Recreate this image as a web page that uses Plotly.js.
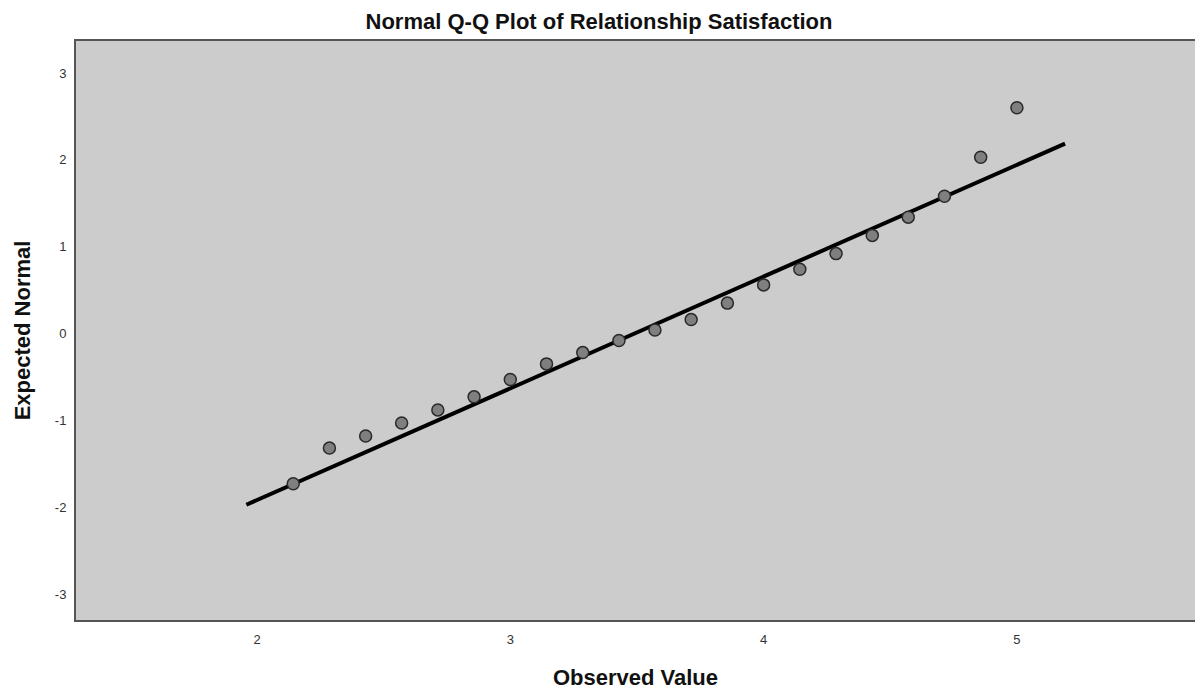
<!DOCTYPE html>
<html>
<head>
<meta charset="utf-8">
<script src="https://cdn.plot.ly/plotly-3.0.1.min.js"></script>
<style>html,body{margin:0;padding:0;background:#fff}#chart{width:1198px;height:695px}</style>
</head>
<body>
<div id="chart"></div>
<script>
const observed = [2.143, 2.286, 2.429, 2.571, 2.714, 2.857, 3.000, 3.143, 3.286, 3.429, 3.571,
                  3.714, 3.857, 4.000, 4.143, 4.286, 4.429, 4.571, 4.714, 4.857, 5.000];
const expected = [-1.73, -1.32, -1.18, -1.03, -0.88, -0.73, -0.53, -0.35, -0.22, -0.08, 0.04,
                  0.16, 0.35, 0.56, 0.74, 0.92, 1.13, 1.34, 1.58, 2.03, 2.60];
// Reference line endpoints
const lineX = [1.958, 5.19];
const lineY = [-1.973, 2.187];
const xTicks = [2, 3, 4, 5];
const yTicks = [-3, -2, -1, 0, 1, 2, 3];

const font = 'Liberation Sans, Arial, sans-serif';

const traces = [
  {x: lineX, y: lineY, type: 'scatter', mode: 'lines',
   line: {color: '#000000', width: 4}, hoverinfo: 'skip', showlegend: false},
  {x: observed, y: expected, type: 'scatter', mode: 'markers',
   marker: {size: 12, color: '#7f7f7f', line: {color: '#2a2a2a', width: 1.5}},
   showlegend: false}
];

const layout = {
  width: 1198, height: 695,
  margin: {l: 76, r: 3, t: 41, b: 75},
  paper_bgcolor: '#ffffff',
  plot_bgcolor: '#cccccc',
  title: {text: '<b>Normal Q-Q Plot of Relationship Satisfaction</b>',
          font: {family: font, size: 22, color: '#111'},
          x: 0.5, xanchor: 'center', xref: 'container',
          y: 0.969, yanchor: 'middle', yref: 'container'},
  xaxis: {
    range: [1.2855, 5.703], tickvals: xTicks, ticktext: xTicks.map(String),
    showgrid: false, zeroline: false, ticks: '',
    showline: true, linecolor: '#555555', linewidth: 2, mirror: true,
    tickfont: {family: font, size: 13, color: '#333'},
    title: {text: '<b>Observed Value</b>', font: {family: font, size: 22, color: '#111'}, standoff: 24},
    ticklabelstandoff: 6
  },
  yaxis: {
    range: [-3.30, 3.369], tickvals: yTicks, ticktext: yTicks.map(String),
    showgrid: false, zeroline: false, ticks: '',
    showline: true, linecolor: '#555555', linewidth: 2,
    tickfont: {family: font, size: 13, color: '#333'},
    title: {text: '<b>Expected Normal</b>', font: {family: font, size: 22, color: '#111'}, standoff: 18},
    ticklabelstandoff: 5
  }
};

Plotly.newPlot('chart', traces, layout, {displayModeBar: false, staticPlot: true});
</script>
</body>
</html>
